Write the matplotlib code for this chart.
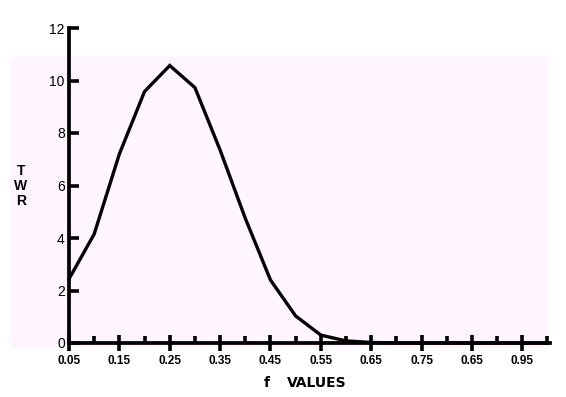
import matplotlib.pyplot as plt
from matplotlib.patches import Rectangle

W, H = 566, 397

# f values and terminal wealth relative
f_values = [0.05, 0.10, 0.15, 0.20, 0.25, 0.30, 0.35, 0.40, 0.45, 0.50,
            0.55, 0.60, 0.65, 0.70, 0.75, 0.80, 0.85, 0.90, 0.95, 1.00]
twr = [2.44, 4.15, 7.2, 9.58, 10.57, 9.73, 7.35, 4.75, 2.4, 1.03,
       0.3, 0.08, 0.02, 0.0, 0.0, 0.0, 0.0, 0.0, 0.0, 0.0]

x_ticks = [0.05, 0.15, 0.25, 0.35, 0.45, 0.55, 0.65, 0.75, 0.85, 0.95]
x_tick_labels = ['0.05', '0.15', '0.25', '0.35', '0.45', '0.55', '0.65',
                 '0.75', '0.65', '0.95']  # the original prints 0.65 twice
x_minor = [0.10, 0.20, 0.30, 0.40, 0.50, 0.60, 0.70, 0.80, 0.90, 1.00]
y_ticks = [0, 2, 4, 6, 8, 10, 12]

pink_bg = '#FEF5FE'


def px_box(x0, y0, x1, y1):
    """pixel box (top-left origin) -> figure fraction rect"""
    return [x0 / W, 1 - y1 / H, (x1 - x0) / W, (y1 - y0) / H]


fig = plt.figure(figsize=(W / 100, H / 100), dpi=100)
fig.patch.set_facecolor('white')

bx, by, bw, bh = px_box(10, 57, 548, 348)
fig.patches.append(Rectangle((bx, by), bw, bh, transform=fig.transFigure,
                             facecolor=pink_bg, edgecolor='none', zorder=-5))

ax = fig.add_axes(px_box(69, 28, 550, 343))
ax.set_zorder(2)
ax.set_facecolor('none')

ax.plot(f_values, twr, color='black', linewidth=2.4, clip_on=False,
        solid_joinstyle='miter', zorder=3)

ax.set_xlim(0.05, 1.005)
ax.set_ylim(0, 12)

for side in ('top', 'right'):
    ax.spines[side].set_visible(False)
for side in ('left', 'bottom'):
    ax.spines[side].set_linewidth(2.7)

ax.set_xticks(x_ticks)
ax.set_xticklabels(x_tick_labels, family='Liberation Sans',
                   fontweight='bold', fontsize=8.5)
ax.set_xticks(x_minor, minor=True)
ax.tick_params(axis='x', which='major', direction='inout', length=11,
               width=2.6, pad=3)
ax.tick_params(axis='x', which='minor', direction='in', length=5, width=2.6)

ax.set_yticks(y_ticks)
ax.set_yticklabels([str(v) for v in y_ticks], family='Liberation Sans',
                   fontsize=10)
ax.tick_params(axis='y', direction='in', length=7, width=2.6, pad=3)

fig.text(21 / W, 1 - 186 / H, 'T\nW\nR', ha='center', va='center',
         fontsize=10, fontweight='semibold', family='Liberation Sans',
         linespacing=1.1)
fig.text(267 / W, 1 - 383 / H, 'f', ha='center', va='center',
         fontsize=10, fontweight='bold')
fig.text(287 / W, 1 - 383 / H, 'VALUES', ha='left', va='center',
         fontsize=10, fontweight='bold')

fig.savefig('out.png', dpi=100, facecolor='white')
